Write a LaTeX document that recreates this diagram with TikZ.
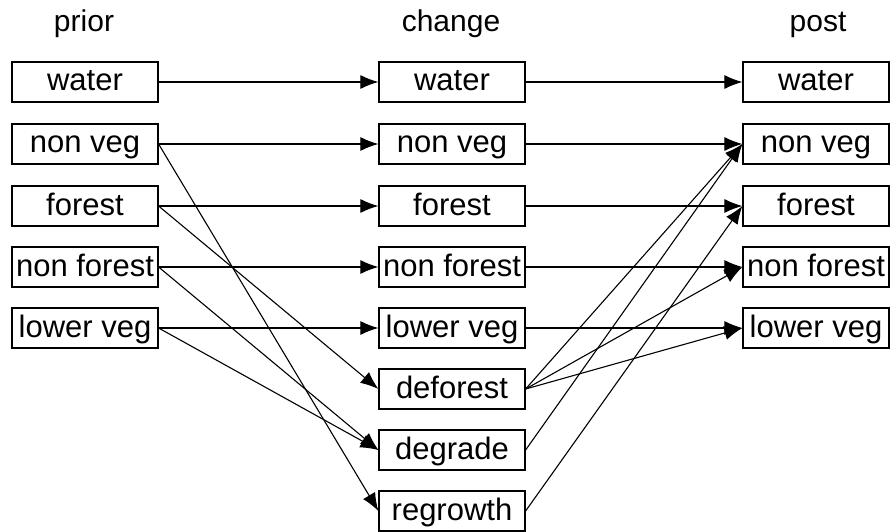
\documentclass[tikz,border=0pt]{standalone}
\usepackage{fontspec}
\setmainfont{Liberation Sans}
\usetikzlibrary{arrows.meta}
\tikzset{
  lc/.style={draw, line width=1.2pt, minimum width=146pt, minimum height=40pt,
    inner sep=0pt, text height=24pt, text depth=6pt,
    font=\fontsize{31}{32}\selectfont},
  hdr/.style={anchor=base, font=\fontsize{30}{32}\selectfont},
  flow/.style={-{Latex[length=18pt,width=14pt]}, line width=1.1pt},
}

\begin{document}
\begin{tikzpicture}[x=1pt,y=-1pt]
        \useasboundingbox (0,0) rectangle (891,532);
        % headers
        \node[hdr] (hprior) at (84,32) {prior};
        \node[hdr] (hchange) at (451,32) {change};
        \node[hdr] (hpost) at (818,32) {post};

        % prior
        \node[lc] (pw) at (85,82) {water};
        \node[lc] (pnv) at (85,144) {non veg};
        \node[lc] (pf) at (85,206) {forest};
        \node[lc] (pnf) at (85,267) {non forest};
        \node[lc] (plv) at (85,328) {lower veg};

        % change
        \node[lc] (cw) at (452,82) {water};
        \node[lc] (cnv) at (452,144) {non veg};
        \node[lc] (cf) at (452,206) {forest};
        \node[lc] (cnf) at (452,267) {non forest};
        \node[lc] (clv) at (452,328) {lower veg};
        \node[lc] (cdf) at (452,389) {deforest};
        \node[lc] (cdg) at (452,450) {degrade};
        \node[lc] (crg) at (452,511) {regrowth};

        % post
        \node[lc] (qw) at (816,82) {water};
        \node[lc] (qnv) at (816,144) {non veg};
        \node[lc] (qf) at (816,206) {forest};
        \node[lc] (qnf) at (816,267) {non forest};
        \node[lc] (qlv) at (816,328) {lower veg};

        % prior -> change
        \draw[flow] (pw.east) -- (cw.west);
        \draw[flow] (pnv.east) -- (cnv.west);
        \draw[flow] (pf.east) -- (cf.west);
        \draw[flow] (pnf.east) -- (cnf.west);
        \draw[flow] (plv.east) -- (clv.west);
        \draw[flow] (pnv.east) -- (crg.west);
        \draw[flow] (pf.east) -- (cdf.west);
        \draw[flow] (pnf.east) -- (cdg.west);
        \draw[flow] (plv.east) -- (cdg.west);

        % change -> post
        \draw[flow] (cw.east) -- (qw.west);
        \draw[flow] (cnv.east) -- (qnv.west);
        \draw[flow] (cf.east) -- (qf.west);
        \draw[flow] (cnf.east) -- (qnf.west);
        \draw[flow] (clv.east) -- (qlv.west);
        \draw[flow] (cdf.east) -- (qnv.west);
        \draw[flow] (cdf.east) -- (qnf.west);
        \draw[flow] (cdf.east) -- (qlv.west);
        \draw[flow] (cdg.east) -- (qnv.west);
        \draw[flow] (crg.east) -- (qf.west);
\end{tikzpicture}
\end{document}
